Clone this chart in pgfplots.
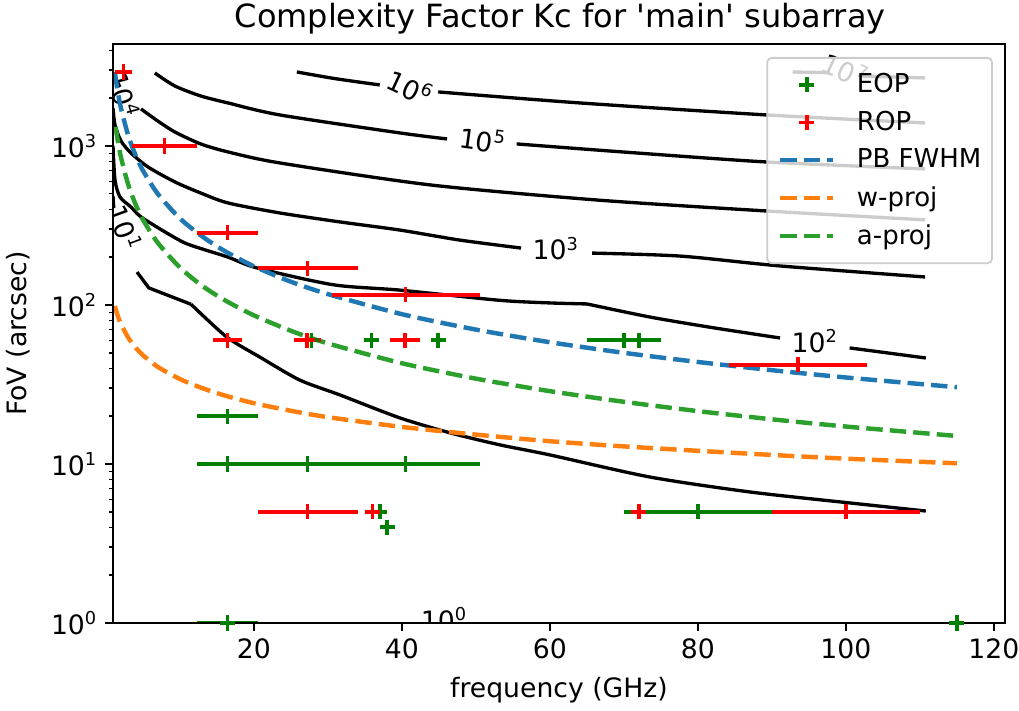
\documentclass[border=0pt]{standalone}
\usepackage{fontspec}
\setmainfont{DejaVu Sans}
\usepackage{pgfplots}
\pgfplotsset{compat=1.18}
\usepackage{pgfplotstable}
\definecolor{cBlue}{HTML}{1F77B4}
\definecolor{cOrange}{HTML}{FF7F0E}
\definecolor{cGreen}{HTML}{2CA02C}
\definecolor{mGreen}{HTML}{008000}
\definecolor{mRed}{HTML}{FF0000}
\newcommand{\fs}{\fontsize{12}{14}\selectfont}
\pgfplotsset{
  markleg/.style={legend image code/.code={\draw[##1] plot coordinates {(12pt,0pt)};}},
  lineleg/.style={legend image code/.code={\draw[##1] (0pt,0pt) -- (24pt,0pt);}},
  cont/.style={black, line width=1.5pt, forget plot},
  sm/.style={smooth, tension=0.45},
}

\pgfplotstableread{
x y ex
2.35 2920 1.15
16.4 20 4.1
16.4 10 4.1
27.25 10 6.75
40.5 10 10
27.25 5 6.75
37 5 0.3
38 4 0
27.8 60 0.4
35.9 60 0.9
44.9 60 0.9
70 60 5
72 60 0.5
80 5 10
16.4 1 4.1
115 1 1
}\eopdata

\pgfplotstableread{
x y ex
2.35 2920 1.15
7.9 1000 4.4
16.4 285 4.1
27.25 170 6.75
40.5 116 10
93.5 42 9.3
16.4 60 2
27.2 60 1.8
40.4 60 2
27.25 5 6.75
36 5 0.5
72 5 0.2
100 5 10
}\ropdata

\begin{document}
\begin{tikzpicture}
\useasboundingbox (-50.85pt,-39.6pt) rectangle (407.7pt,280.35pt);
\begin{axis}[
  at={(0pt,0pt)}, anchor=south west,
  scale only axis, width=401.4pt, height=260.55pt,
  ymode=log,
  xmin=0.95, xmax=121.5, ymin=1, ymax=4380,
  xtick={20,40,60,80,100,120},
  ytick={1,10,100,1000},
  yticklabels={{10\textsuperscript{0}},{10\textsuperscript{1}},{10\textsuperscript{2}},{10\textsuperscript{3}}},
  minor ytick={2,3,4,5,6,7,8,9,20,30,40,50,60,70,80,90,200,300,400,500,600,700,800,900,2000,3000,4000},
  tick align=outside, tick pos=left,
  major tick length=3.5pt, minor tick length=2pt,
  every major tick/.style={black, line width=0.8pt},
  every minor tick/.style={black, line width=0.6pt},
  axis line style={line width=0.8pt},
  tick label style={font=\fs},
  /pgf/number format/assume math mode=true,
  label style={font=\fs},
  xlabel={frequency (GHz)},
  xlabel style={at={(axis description cs:0.5,-0.1157)}, anchor=center},
  ylabel={FoV (arcsec)},
  ylabel style={at={(axis description cs:-0.1065,0.5)}, anchor=center},
  axis on top,
  legend cell align=left,
  legend style={at={(0.9865,0.9775)}, anchor=north east, draw=black!20,
    rounded corners=2pt, fill=white, fill opacity=0.8, draw opacity=1, text opacity=1,
    font=\fontsize{11.7}{14}\selectfont, row sep=2.8pt, inner xsep=4.8pt, inner ysep=5pt, line width=0.8pt,
    nodes={inner xsep=0pt},
    /tikz/every odd column/.append style={column sep=9.6pt}},
]
% legend images
\addlegendimage{only marks, mark=+, mGreen, mark size=3.4pt, mark options={line width=1.6pt}, markleg}
\addlegendimage{only marks, mark=+, mRed, mark size=3.4pt, mark options={line width=1.6pt}, markleg}
\addlegendimage{cBlue, line width=2pt, dash pattern=on 7.4pt off 3.2pt, lineleg}
\addlegendimage{cOrange, line width=2pt, dash pattern=on 7.4pt off 3.2pt, lineleg}
\addlegendimage{cGreen, line width=2pt, dash pattern=on 7.4pt off 3.2pt, lineleg}

% contours
% 10^7
\addplot[cont] coordinates {(92.8,2919) (97.8,2890)};
\addplot[cont] coordinates {(101.9,2755) (110.7,2678)};
\node[rotate=-25, font=\fs] at (axis cs:99.9,3006) {10\textsuperscript{7}};
% 10^6
\addplot[cont, sm] coordinates {(25.8,2920) (31,2650) (37.0,2420)};
\addplot[cont, sm] coordinates {(44.9,2187) (64.1,1864) (89.3,1567) (110.7,1396)};
\node[rotate=-25, font=\fs] at (axis cs:41.1,2330) {10\textsuperscript{6}};
% 10^5
\addplot[cont, sm] coordinates {(6.6,2878) (9.3,2385) (12.8,2063) (16.5,1864) (23.5,1567) (39.7,1208) (46.1,1107)};
\addplot[cont, sm] coordinates {(55.5,1030) (70.8,910) (89.3,793) (110.7,717)};
\node[rotate=-8, font=\fs] at (axis cs:50.9,1090) {10\textsuperscript{5}};
% 10^4
\addplot[cont] coordinates {(1.1,2750) (1.9,2350)};
\addplot[cont, sm] coordinates {(4.73,1710) (7.0,1436) (9.3,1225) (12.8,1030) (16.5,917) (23.5,782) (43.8,569) (66.4,457) (89.3,390) (110.7,343)};
\node[rotate=-75, font=\fs] at (axis cs:2.43,2094) {10\textsuperscript{4}};
% 10^3
\addplot[cont, sm] coordinates {(0.95,1734) (1.22,1355) (2.03,1075) (3.38,903) (5.68,738) (9.32,594) (12.8,506) (16.5,438) (23.5,379) (31.6,333) (39.7,296) (47.8,256) (56.1,228)};
\addplot[cont, sm] coordinates {(65.7,212) (77.6,203) (91.1,176) (110.7,150)};
\node[font=\fs] at (axis cs:60.8,226) {10\textsuperscript{3}};
% 10^2
\addplot[cont, sm] coordinates {(0.95,1000) (1.22,611) (1.89,478) (3.38,413) (4.73,358) (7.97,288) (10.7,245) (13.4,222) (16.5,200) (20.4,171) (30.7,134) (39.7,124) (53.2,107) (60,103) (65,101.5)};
\addplot[cont, sm] coordinates {(65,101.5) (73.5,84) (82,72) (91.1,62)};
\addplot[cont] coordinates {(100.5,53.7) (110.8,46.4)};
\node[font=\fs] at (axis cs:95.8,59.4) {10\textsuperscript{2}};
% 10^1
\addplot[cont] coordinates {(0.95,485) (1.05,408)};
\addplot[cont] coordinates {(4.2,161) (5.8,128) (11.5,101)};
\addplot[cont, sm] coordinates {(11.5,101) (16.3,63) (20.8,47) (26.2,33.7) (31.6,27.2) (39.7,19.5) (46.5,15.7) (53.2,13.2) (60,11.4) (73.5,8.28) (87.0,6.67) (100.5,5.69) (110.8,5.06)};
\node[rotate=-70, font=\fs] at (axis cs:2.57,305) {10\textsuperscript{1}};
% 10^0
\node[font=\fs] at (axis cs:45.7,1.06) {10\textsuperscript{0}};

% dashed curves
\addplot[cBlue, line width=2pt, dash pattern=on 7.4pt off 3.2pt, forget plot, sm] coordinates {
(1.2,2917) (1.5,2333) (2,1750) (3,1167) (4,875) (5,700) (7,500) (10,350) (13,270) (16,219) (20,175) (25,140) (30,117) (40,87.5) (50,70) (60,58.3) (70,50) (80,43.8) (90,38.9) (100,35) (115,30.4)};
\addplot[cOrange, line width=2pt, dash pattern=on 7.4pt off 3.2pt, forget plot, sm] coordinates {
(1.2,98.6) (1.5,88.2) (2,76.4) (3,62.4) (4,54) (5,48.3) (7,40.8) (10,34.2) (13,30) (16,27) (20,24.1) (25,21.6) (30,19.7) (40,17.1) (50,15.3) (60,13.9) (70,12.9) (80,12.1) (90,11.4) (100,10.8) (115,10.1)};
\addplot[cGreen, line width=2pt, dash pattern=on 7.4pt off 3.2pt, forget plot, sm] coordinates {
(1.3,1320) (1.5,1147) (2,860) (3,573) (4,430) (5,344) (7,246) (10,172) (13,132) (16,107.5) (20,86) (25,68.8) (30,57.3) (40,43) (50,34.4) (60,28.7) (70,24.6) (80,21.5) (90,19.1) (100,17.2) (115,15)};

% observations
\addplot[only marks, mark=+, mGreen, mark size=3.4pt, mark options={line width=1.6pt}, forget plot,
  error bars/.cd, x dir=both, x explicit, error mark=none, error bar style={line width=1.8pt, mGreen}]
  table[x=x, y=y, x error=ex] {\eopdata};
\addplot[only marks, mark=+, mRed, mark size=3.4pt, mark options={line width=1.6pt}, forget plot,
  error bars/.cd, x dir=both, x explicit, error mark=none, error bar style={line width=1.8pt, mRed}]
  table[x=x, y=y, x error=ex] {\ropdata};

\legend{EOP,ROP,PB FWHM,w-proj,a-proj}
\end{axis}
\node[font=\fontsize{14.4}{17}\selectfont, anchor=center] at (201.2pt,271.8pt) {Complexity Factor Kc for \textquotesingle main\textquotesingle\ subarray};
\end{tikzpicture}
\end{document}
